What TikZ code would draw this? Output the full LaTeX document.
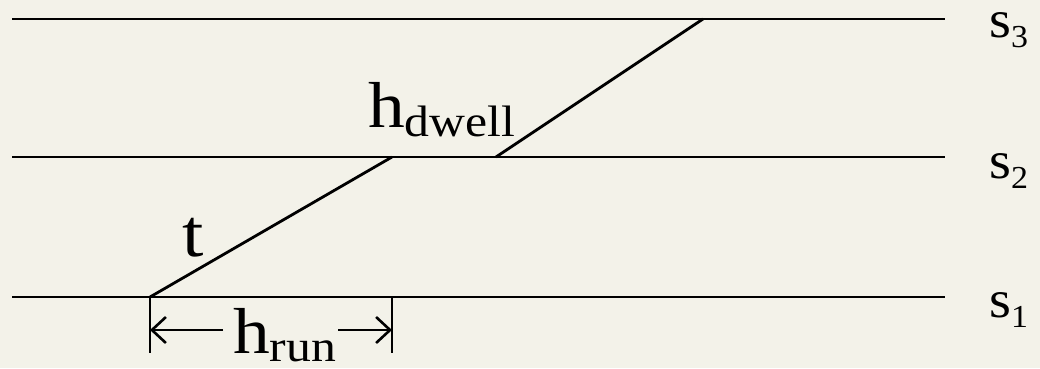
\documentclass[tikz,border=0pt]{standalone}
\usepackage{fontspec}
\setmainfont{Liberation Serif}
\usetikzlibrary{arrows.meta}
\definecolor{bg}{RGB}{243,242,233}
\tikzset{
  ln/.style={line width=2.8pt, black},
  dimarrow/.style={line width=2.8pt, -{Straight Barb[length=14pt,width=26pt,line width=2.6pt]}},
  lbl/.style={anchor=base west, inner sep=0pt, xscale=1.13},
  slbl/.style={anchor=base west, inner sep=0pt, xscale=1.06}
}
\newcommand{\bigh}[2]{{\fontsize{65}{70}\selectfont h\raisebox{-#2pt}{\fontsize{44}{46}\selectfont #1}}}
\newcommand{\stat}[1]{{\fontsize{53}{56}\selectfont s\raisebox{-10pt}{\fontsize{32}{34}\selectfont #1}}}
\begin{document}
\begin{tikzpicture}[x=1pt,y=-1pt]
\fill[bg] (0,0) rectangle (1040,368);
\useasboundingbox (0,0) rectangle (1040,368);
% station lines
\coordinate (a3) at (12,19);  \coordinate (b3) at (945,19);
\coordinate (a2) at (12,157); \coordinate (b2) at (945,157);
\coordinate (a1) at (12,297); \coordinate (b1) at (945,297);
\draw[ln] (a3) -- (b3);
\draw[ln] (a2) -- (b2);
\draw[ln] (a1) -- (b1);
% train path
\coordinate (p0) at (150,297);
\coordinate (p1) at (392,157);
\coordinate (p2) at (496,157);
\coordinate (p3) at (703,19);
\draw[ln] (p0) -- (p1);
\draw[ln] (p2) -- (p3);
% dimension
\coordinate (t0b) at (150,353);
\coordinate (t1t) at (392,297);
\coordinate (t1b) at (392,353);
\draw[ln] (p0) -- (t0b);
\draw[ln] (t1t) -- (t1b);
\coordinate (dl) at (150,330);
\coordinate (dr) at (392,330);
\coordinate (ml) at (223,330);
\coordinate (mr) at (338,330);
\draw[dimarrow] (ml) -- (dl);
\draw[dimarrow] (mr) -- (dr);
% labels
\node[lbl] (hrun) at (233,353) {\bigh{run}{8}};
\node[lbl] (hdwell) at (368,127) {\bigh{dwell}{9}};
\node[lbl] (tl) at (182,256) {\fontsize{68}{72}\selectfont t};
\node[slbl] (s3) at (989,37) {\stat{3}};
\node[slbl] (s2) at (989,178) {\stat{2}};
\node[slbl] (s1) at (989,317) {\stat{1}};
\end{tikzpicture}
\end{document}
